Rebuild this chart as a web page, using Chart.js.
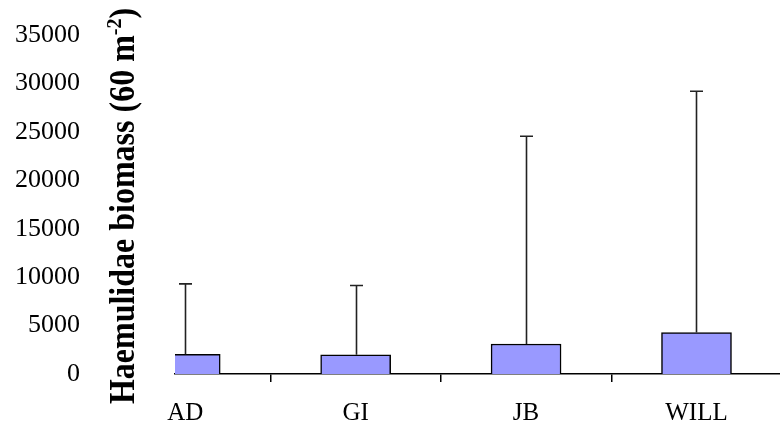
<!DOCTYPE html>
<html>
<head>
<meta charset="utf-8">
<script src="https://cdn.jsdelivr.net/npm/chart.js@4.4.0/dist/chart.umd.min.js"></script>
<style>
  html, body { margin: 0; padding: 0; background: #fff; }
  canvas { display: block; }
</style>
</head>
<body>
<canvas id="chart" width="780" height="423"></canvas>
<script>
  // ====== Data ======
  const sites = ["AD", "GI", "JB", "WILL"];
  const means = [2040, 1980, 3100, 4280];
  const upperErr = [9300, 9140, 24550, 29200]; // top of error bar
  const yTicks = [0, 5000, 10000, 15000, 20000, 25000, 30000, 35000];

  const FONT = "'Liberation Serif', 'Times New Roman', serif";

  // upper error whiskers drawn on top of the bars
  const errorBars = {
    id: "errorBars",
    afterDatasetsDraw(chart) {
      const { ctx, scales: { x, y } } = chart;
      ctx.save();
      ctx.strokeStyle = "#222";
      ctx.lineWidth = 1.6;
      sites.forEach((s, i) => {
        const px = Math.round(x.getPixelForValue(i)) + 0.5;
        const yTop = y.getPixelForValue(upperErr[i]);
        const yBar = y.getPixelForValue(means[i]);
        ctx.beginPath();
        ctx.moveTo(px, yBar);
        ctx.lineTo(px, yTop);
        ctx.moveTo(px - 6.5, yTop);
        ctx.lineTo(px + 6.5, yTop);
        ctx.stroke();
      });
      ctx.restore();
    }
  };

  // rotated axis title with superscript
  const yTitle = {
    id: "yTitle",
    afterDraw(chart) {
      const { ctx } = chart;
      const main = "Haemulidae biomass (60 m";
      const sup = "-2";
      const tail = ")";
      const big = "bold 32px " + FONT;
      const small = "bold 20px " + FONT;
      ctx.save();
      ctx.fillStyle = "#000";
      ctx.textBaseline = "alphabetic";
      ctx.font = big;
      const wMain = ctx.measureText(main).width;
      const wTail = ctx.measureText(tail).width;
      ctx.font = small;
      const wSup = ctx.measureText(sup).width;
      const total = wMain + wSup + wTail;
      ctx.translate(134, 206);
      ctx.rotate(-Math.PI / 2);
      ctx.scale(1, 1.1);
      const x0 = -total / 2;
      ctx.font = big;
      ctx.fillText(main, x0, 0);
      ctx.font = small;
      ctx.fillText(sup, x0 + wMain, -12);
      ctx.font = big;
      ctx.fillText(tail, x0 + wMain + wSup, 0);
      ctx.restore();
    }
  };

  new Chart(document.getElementById("chart"), {
    type: "bar",
    data: {
      datasets: [{
        data: means.map((v, i) => ({ x: i, y: v })),
        backgroundColor: "#9999FF",
        borderColor: "#000",
        borderWidth: 1.5,
        borderSkipped: "bottom",
        barThickness: 70
      }]
    },
    plugins: [errorBars, yTitle],
    options: {
      responsive: false,
      animation: false,
      devicePixelRatio: 1,
      layout: { padding: { top: 35, right: 0, left: 0, bottom: 0 } },
      plugins: { legend: { display: false }, tooltip: { enabled: false } },
      scales: {
        x: {
          type: "linear",
          offset: false,
          min: -0.06,
          max: 3.49,
          afterBuildTicks: (s) => {
            s.ticks = [0, 0.5, 1, 1.5, 2, 2.5, 3].map(v => ({ value: v }));
          },
          afterFit: (s) => {
            s.height = 49;
            s.paddingLeft = 0;
            s.paddingRight = 0;
          },
          border: { display: true, color: "#000", width: 1.5 },
          grid: {
            offset: false,
            drawOnChartArea: false,
            drawTicks: true,
            tickLength: 8,
            color: (c) => (c.tick && c.tick.value % 1 !== 0) ? "#000" : "rgba(0,0,0,0)",
            lineWidth: 1.5
          },
          ticks: {
            autoSkip: false,
            maxRotation: 0,
            padding: 16,
            color: "#000",
            font: { family: FONT, size: 25 },
            callback: (v) => (v % 1 === 0 ? sites[v] : "")
          }
        },
        y: {
          min: 0,
          max: 35000,
          afterBuildTicks: (s) => { s.ticks = yTicks.map(v => ({ value: v })); },
          afterFit: (s) => {
            s.width = 175;
            s.paddingTop = 0;
            s.paddingBottom = 0;
          },
          border: { display: false },
          grid: { display: false, drawTicks: false },
          ticks: {
            padding: 95,
            color: "#000",
            font: { family: FONT, size: 26 },
            callback: (v) => String(v)
          }
        }
      }
    }
  });
</script>
</body>
</html>
